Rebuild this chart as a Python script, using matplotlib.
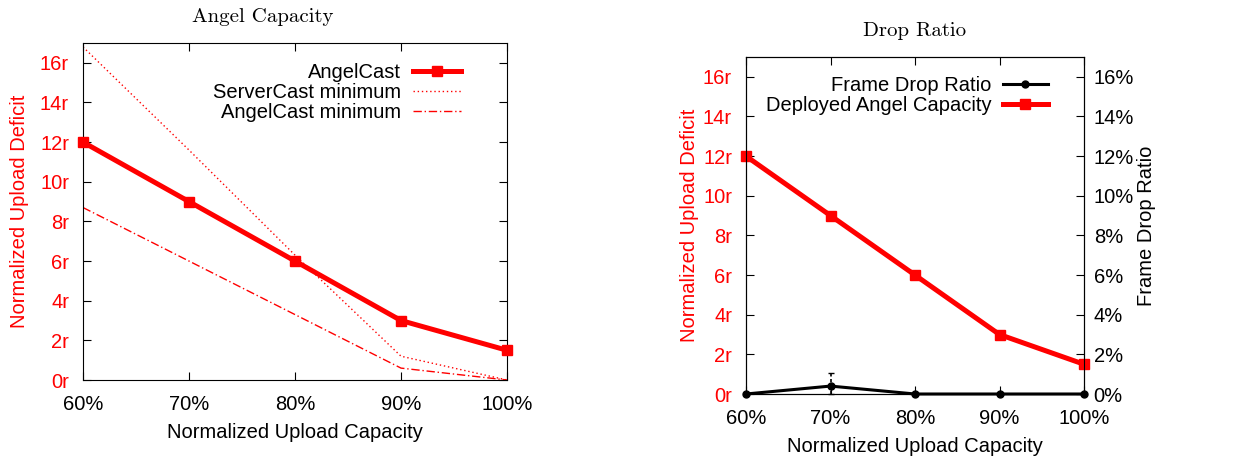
import matplotlib
matplotlib.use("Agg")
import matplotlib.pyplot as plt
from matplotlib.ticker import FuncFormatter

plt.rcParams["font.family"] = ["Liberation Sans", "DejaVu Sans"]

# ── Data ──────────────────────────────────────────────────────────────────
capacity = [60, 70, 80, 90, 100]
angelcast = [12, 9, 6, 3, 1.5]
servercast_min = [16.8, 11.6, 6.3, 1.2, 0]
angelcast_min = [8.7, 6.0, 3.3, 0.6, 0]

deployed_capacity = [12, 9, 6, 3, 1.5]
frame_drop = [0, 0.4, 0, 0, 0]
frame_drop_err_lo = [0, 0.4, 0, 0, 0]
frame_drop_err_hi = [0, 0.65, 0, 0, 0]

x_ticks = [60, 70, 80, 90, 100]
y_ticks = [0, 2, 4, 6, 8, 10, 12, 14, 16]

RED = "#ff0000"
FS = 14.5

W, H = 1254, 459
fig = plt.figure(figsize=(W / 100, H / 100), dpi=100)


def box(l, t, r, b):
    return [l / W, 1 - b / H, (r - l) / W, (b - t) / H]


def style_x(ax):
    ax.set_xlim(60, 100)
    ax.set_xticks(x_ticks)
    ax.xaxis.set_major_formatter(FuncFormatter(lambda v, p: f"{v:.0f}%"))
    ax.set_xlabel("Normalized Upload Capacity", fontsize=FS, labelpad=6)
    ax.set_ylim(0, 17)
    ax.set_yticks(y_ticks)
    ax.yaxis.set_major_formatter(FuncFormatter(lambda v, p: f"{v:.0f}r"))
    ax.tick_params(direction="in", length=6, labelsize=FS, pad=10)
    ax.tick_params(axis="x", pad=11)
    ax.tick_params(axis="y", labelcolor=RED)
    ax.set_ylabel("Normalized Upload Deficit", color=RED, fontsize=FS)


# ── Left: Angel Capacity ──────────────────────────────────────────────────
ax1 = fig.add_axes(box(83, 43, 507, 380))
ax1.plot(capacity, angelcast, color=RED, lw=3.6, marker="s", ms=7,
         label="AngelCast", clip_on=False, zorder=3)
ax1.plot(capacity, servercast_min, color=RED, lw=1.0, ls=(0, (1, 2)),
         label="ServerCast minimum")
ax1.plot(capacity, angelcast_min, color=RED, lw=1.0, ls=(0, (6, 2, 1, 2)),
         label="AngelCast minimum")
style_x(ax1)
ax1.tick_params(top=True, right=True)
ax1.yaxis.labelpad = 8
ax1.legend(loc="upper right", bbox_to_anchor=(0.925, 0.982), frameon=False,
           markerfirst=False, fontsize=FS, handlelength=2.4,
           labelspacing=0.05, handletextpad=0.6, borderaxespad=0.3)
fig.text(263 / W, 1 - 17 / H, "Angel Capacity", family="cmr10",
         fontsize=15, ha="center", va="center")

# ── Right: Drop Ratio ─────────────────────────────────────────────────────
ax2 = fig.add_axes(box(746, 57, 1084, 394))
l1 = ax2.plot(capacity, deployed_capacity, color=RED, lw=3.6, marker="s",
              ms=7, label="Deployed Angel Capacity", clip_on=False, zorder=3)
style_x(ax2)
ax2.tick_params(top=True)
ax2.yaxis.labelpad = 3

ax3 = ax2.twinx()
ax3.set_ylim(0, 17)
ax3.set_yticks(y_ticks)
ax3.yaxis.set_major_formatter(FuncFormatter(lambda v, p: f"{v:.0f}%"))
ax3.tick_params(direction="in", length=6, labelsize=FS, pad=7)
ax3.set_ylabel("Frame Drop Ratio", fontsize=FS, labelpad=2)
eb = ax3.errorbar(capacity, frame_drop,
                  yerr=[frame_drop_err_lo, frame_drop_err_hi], color="black",
                  lw=2.2, marker="o", ms=5, capsize=2, elinewidth=1.2,
                  clip_on=False, zorder=4)
eb[2][0].set_linestyle((0, (2, 1.5)))
l2 = ax3.plot([], [], color="black", lw=2.2, marker="o", ms=5,
              label="Frame Drop Ratio")
ax3.legend(l2 + l1, ["Frame Drop Ratio", "Deployed Angel Capacity"],
           loc="upper right", bbox_to_anchor=(0.934, 0.985), frameon=False,
           markerfirst=False, fontsize=FS, handlelength=2.2,
           labelspacing=0.05, handletextpad=0.6, borderaxespad=0.3)
fig.text(915 / W, 1 - 31 / H, "Drop Ratio", family="cmr10",
         fontsize=15, ha="center", va="center")

fig.savefig("out.png", dpi=100)
